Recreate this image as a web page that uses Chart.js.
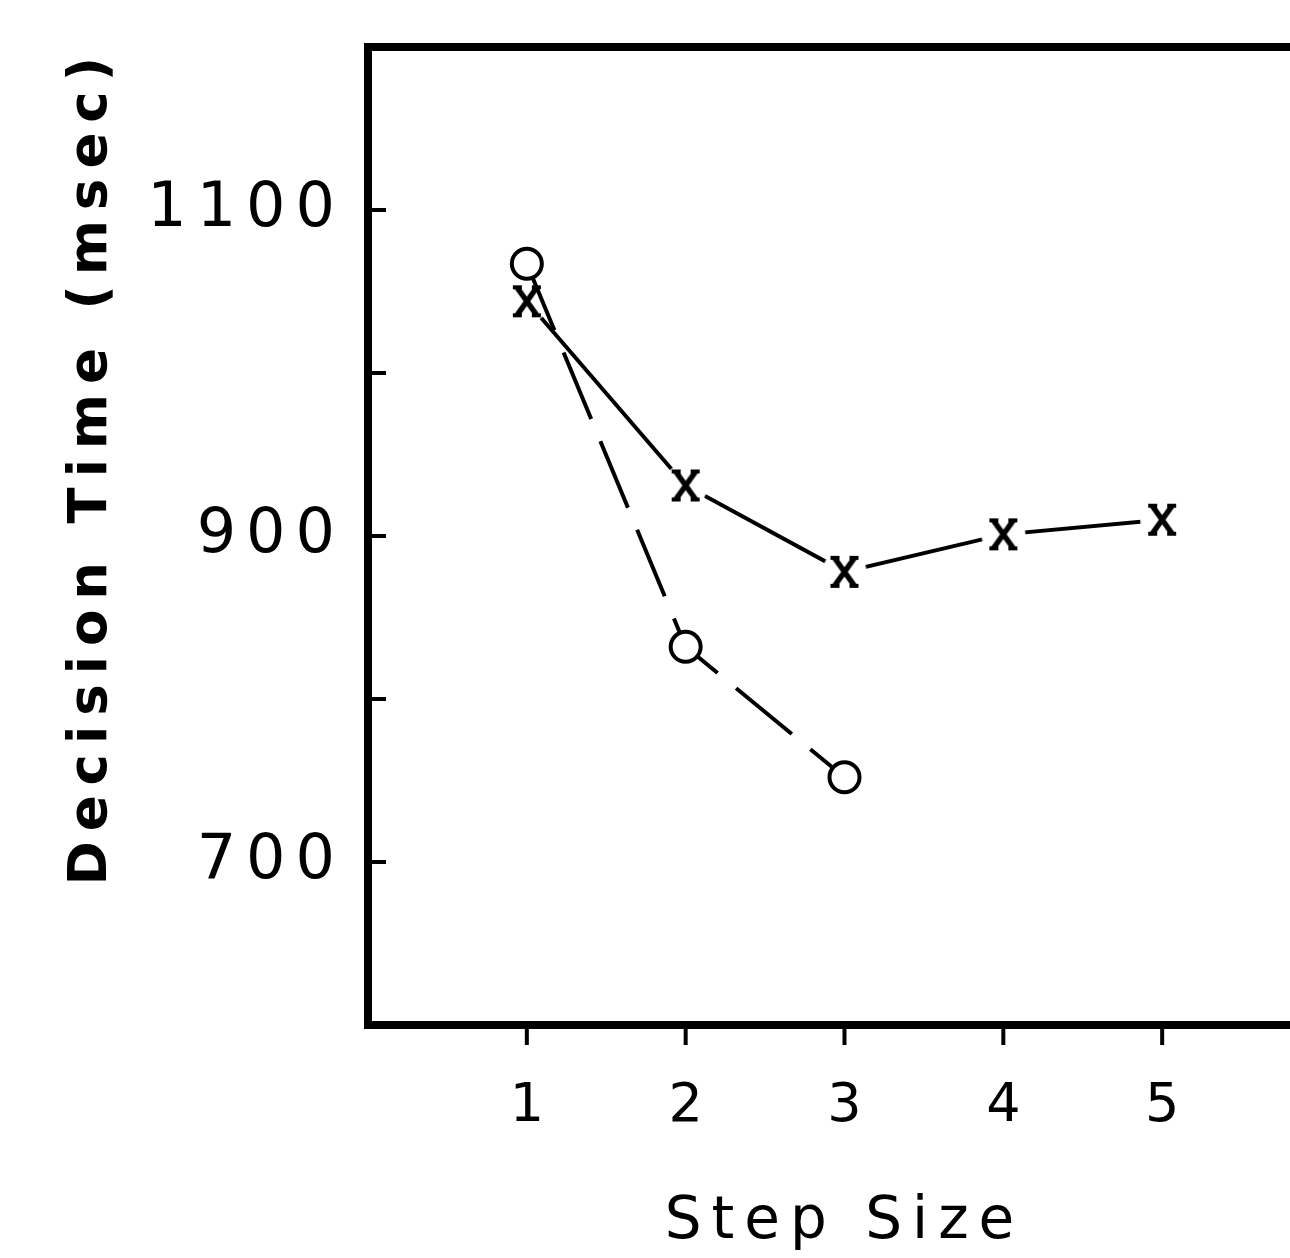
<!DOCTYPE html>
<html>
<head>
<meta charset="utf-8">
<script src="https://cdn.jsdelivr.net/npm/chart.js@4.4.1/dist/chart.umd.min.js"></script>
<style>
  html, body { margin:0; padding:0; background:#fff; overflow:hidden; }
  #wrap { width:1340px; height:1258px; }
</style>
</head>
<body>
<div id="wrap"><canvas id="chart"></canvas></div>
<script>
/* ---- data ---- */
const stepSizes   = [1, 2, 3, 4, 5];
const crossTimes  = [1044, 931, 878, 901, 910];
const circleSteps = [1, 2, 3];
const circleTimes = [1067, 832, 752];
const yLabelled   = [700, 900, 1100];
const xLabelled   = [1, 2, 3, 4, 5];

/* X marker with a white halo so the line stops short of it */
const crossMark = (() => {
  const c = document.createElement('canvas'); c.width = c.height = 48;
  const g = c.getContext('2d');
  g.fillStyle = '#fff'; g.beginPath(); g.arc(24, 24, 22, 0, Math.PI * 2); g.fill();
  g.strokeStyle = '#000'; g.lineWidth = 5.5;
  g.beginPath(); g.moveTo(14, 10); g.lineTo(34, 38); g.moveTo(34, 10); g.lineTo(14, 38); g.stroke();
  g.lineWidth = 4;
  g.beginPath();
  g.moveTo(10, 10); g.lineTo(19, 10); g.moveTo(29, 10); g.lineTo(38, 10);
  g.moveTo(10, 38); g.lineTo(19, 38); g.moveTo(29, 38); g.lineTo(38, 38);
  g.stroke();
  return c;
})();

/* wide letter spacing like the typed original */
const spacing = { id: 'spacing', beforeDraw: ch => { ch.ctx.letterSpacing = '10px'; } };

/* heavy frame + inward y ticks + outward x ticks */
const frame = {
  id: 'frame',
  afterDraw: ch => {
    const { ctx, chartArea: a, scales: { x, y } } = ch;
    ctx.save();
    ctx.strokeStyle = '#000';
    ctx.lineWidth = 8; ctx.lineJoin = 'miter';
    ctx.strokeRect(a.left, a.top, a.right - a.left, a.bottom - a.top);
    ctx.lineWidth = 4;
    ctx.beginPath();
    for (let v = y.min; v <= y.max; v += 100) {
      const py = y.getPixelForValue(v);
      ctx.moveTo(a.left, py); ctx.lineTo(a.left + 18, py);
    }
    xLabelled.forEach(v => {
      const px = x.getPixelForValue(v);
      ctx.moveTo(px, a.bottom); ctx.lineTo(px, a.bottom + 20);
    });
    ctx.stroke();
    ctx.restore();
  }
};

/* fixed box sizes, no automatic label padding around the plot */
const fixBox = (w, h) => s => {
  if (w) s.width = w;
  if (h) s.height = h;
  s.paddingTop = s.paddingBottom = s.paddingLeft = s.paddingRight = 0;
};

const font = 'DejaVu Sans';

new Chart(document.getElementById('chart'), {
  type: 'line',
  data: {
    datasets: [
      {
        label: 'O',
        data: circleSteps.map((s, i) => ({ x: s, y: circleTimes[i] })),
        borderColor: '#000', borderWidth: 4, borderDash: [72, 24],
        pointStyle: 'circle', pointRadius: 15, pointBorderWidth: 4,
        pointBackgroundColor: '#fff', pointBorderColor: '#000', tension: 0
      },
      {
        label: 'X',
        data: stepSizes.map((s, i) => ({ x: s, y: crossTimes[i] })),
        borderColor: '#000', borderWidth: 4,
        pointStyle: crossMark, pointRadius: 14, tension: 0
      }
    ]
  },
  plugins: [spacing, frame],
  options: {
    responsive: true, maintainAspectRatio: false, animation: false,
    layout: { padding: { top: 47, right: 19, left: 0, bottom: 0 } },
    plugins: { legend: { display: false }, tooltip: { enabled: false } },
    scales: {
      x: {
        type: 'linear', min: 0, max: 6,
        afterFit: fixBox(0, 233),
        grid: { display: false, drawTicks: false },
        border: { display: false },
        ticks: {
          stepSize: 1, padding: 50, labelOffset: 5, color: '#000',
          font: { family: font, size: 54 },
          callback: v => xLabelled.includes(v) ? String(v) : ''
        },
        title: {
          display: true, text: 'Step Size', color: '#000',
          font: { family: font, size: 58 }, padding: { top: 0, bottom: 0 }
        }
      },
      y: {
        min: 600, max: 1200,
        afterFit: fixBox(368, 0),
        grid: { display: false, drawTicks: false },
        border: { display: false },
        ticks: {
          stepSize: 100, padding: 23, color: '#000',
          font: { family: font, size: 62 },
          callback: v => yLabelled.includes(v) ? String(v) : ''
        },
        title: {
          display: true, text: 'Decision Time (msec)', color: '#000', align: 'end',
          font: { family: font, size: 53, weight: 'bold' }, padding: { top: 60, bottom: 0 }
        }
      }
    }
  }
});
</script>
</body>
</html>
